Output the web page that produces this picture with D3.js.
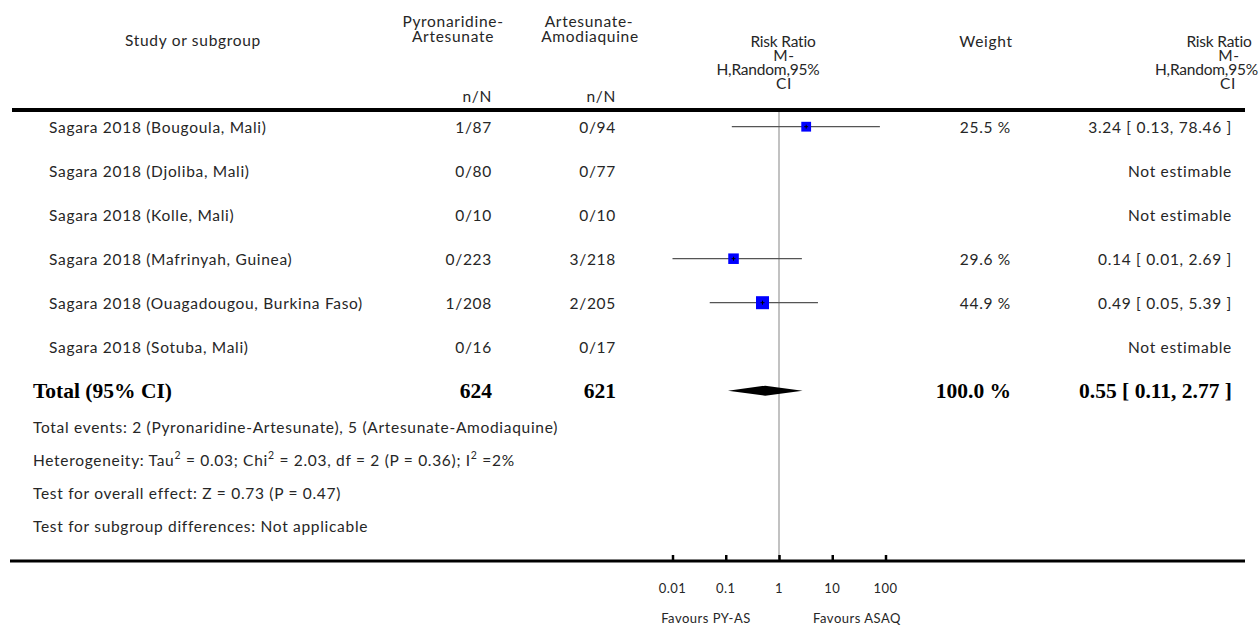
<!DOCTYPE html>
<html>
<head>
<meta charset="utf-8">
<script src="https://cdn.jsdelivr.net/npm/d3@7"></script>
<style>
  html, body { margin: 0; padding: 0; background: #fff; }
  svg { display: block; }
  text { font-family: Lato, "Open Sans", sans-serif; fill: #262626; letter-spacing: 0.7px; }
  text.bold { font-family: "Liberation Serif", "DejaVu Serif", serif; font-weight: bold; fill: #000; letter-spacing: 0; }
  text.small { letter-spacing: 0.5px; }
  text.tight { letter-spacing: -0.2px; }
</style>
</head>
<body>
<svg id="chart" width="1259" height="626"></svg>
<script>
// Study-level data (Risk Ratio, M-H random effects)
const studies = [
  "Sagara 2018 (Bougoula, Mali)",
  "Sagara 2018 (Djoliba, Mali)",
  "Sagara 2018 (Kolle, Mali)",
  "Sagara 2018 (Mafrinyah, Guinea)",
  "Sagara 2018 (Ouagadougou, Burkina Faso)",
  "Sagara 2018 (Sotuba, Mali)"
];
const eventsPA = [1, 0, 0, 0, 1, 0];
const totalPA  = [87, 80, 10, 223, 208, 16];
const eventsAS = [0, 0, 0, 3, 2, 0];
const totalAS  = [94, 77, 10, 218, 205, 17];
const weights  = [25.5, null, null, 29.6, 44.9, null];
const rr       = [3.24, null, null, 0.14, 0.49, null];
const rrLow    = [0.13, null, null, 0.01, 0.05, null];
const rrHigh   = [78.46, null, null, 2.69, 5.39, null];

// Pooled estimate
const pooledN   = [624, 621];
const pooledW   = 100.0;
const pooledRR  = [0.55, 0.11, 2.77]; // estimate, lower, upper

// Axis
const tickValues = [0.01, 0.1, 1, 10, 100];
const tickLabels = ["0.01", "0.1", "1", "10", "100"];

// Footnotes: [text, isSuperscript]
const footnotes = [
  [["Total events: 2 (Pyronaridine-Artesunate), 5 (Artesunate-Amodiaquine)"]],
  [["Heterogeneity: Tau"], ["2", true], [" = 0.03; Chi"], ["2", true], [" = 2.03, df = 2 (P = 0.36); I"], ["2", true], [" =2%"]],
  [["Test for overall effect: Z = 0.73 (P = 0.47)"]],
  [["Test for subgroup differences: Not applicable"]]
];

const svg = d3.select("#chart");
const fs = 15.5;

const x = d3.scaleLog().domain([0.01, 100]).range([672.5, 885.5]);
const rowY = d3.scaleLinear().domain([0, 1]).range([126.7, 170.7]);

const colStudy = 49, colPA = 492, colAS = 616, colW = 1011, colRR = 1232;

// ---- header ----
const hdr = svg.append("g").attr("font-size", fs);
function htext(t, xx, yy, anchor, cls) {
  hdr.append("text").attr("x", xx).attr("y", yy).attr("text-anchor", anchor || "middle")
    .attr("class", cls || null)
    .attr("dominant-baseline", "central").text(t);
}
htext("Study or subgroup", 193, 40);
htext("Pyronaridine-", 453, 21);
htext("Artesunate", 453, 35.5);
htext("Artesunate-", 589, 21);
htext("Amodiaquine", 590, 35.5);
htext("n/N", colPA, 96, "end");
htext("n/N", colAS, 96, "end");
htext("Risk Ratio", 783, 41, "middle", "tight");
htext("M-", 784, 55);
htext("H,Random,95%", 768, 69, "middle", "tight");
htext("CI", 784, 83);
htext("Weight", 986, 41);
htext("Risk Ratio", 1219, 41, "middle", "tight");
htext("M-", 1229, 55);
htext("H,Random,95%", 1258, 69, "end", "tight");
htext("CI", 1228, 83);

svg.append("line").attr("x1", 12).attr("x2", 1245).attr("y1", 110).attr("y2", 110)
  .attr("stroke", "#000").attr("stroke-width", 4);

// ---- reference line at RR = 1 ----
svg.append("line").attr("x1", x(1)).attr("x2", x(1)).attr("y1", 112).attr("y2", 559)
  .attr("stroke", "#999").attr("stroke-width", 1.2);

// ---- study rows ----
const rows = svg.append("g").attr("font-size", fs);
studies.forEach((s, i) => {
  const y = rowY(i);
  const g = rows.append("g");
  g.append("text").attr("x", colStudy).attr("y", y).attr("dominant-baseline", "central").text(s);
  g.append("text").attr("x", colPA).attr("y", y).attr("text-anchor", "end")
    .attr("dominant-baseline", "central").text(eventsPA[i] + "/" + totalPA[i]);
  g.append("text").attr("x", colAS).attr("y", y).attr("text-anchor", "end")
    .attr("dominant-baseline", "central").text(eventsAS[i] + "/" + totalAS[i]);
  if (rr[i] != null) {
    g.append("text").attr("x", colW).attr("y", y).attr("text-anchor", "end")
      .attr("dominant-baseline", "central").text(weights[i].toFixed(1) + " %");
    g.append("text").attr("x", colRR).attr("y", y).attr("text-anchor", "end")
      .attr("dominant-baseline", "central")
      .text(rr[i].toFixed(2) + " [ " + rrLow[i].toFixed(2) + ", " + rrHigh[i].toFixed(2) + " ]");
    // confidence interval
    g.append("line").attr("x1", x(rrLow[i])).attr("x2", x(rrHigh[i])).attr("y1", y).attr("y2", y)
      .attr("stroke", "#555").attr("stroke-width", 1.3);
    // square sized by study weight
    const side = 1.94 * Math.sqrt(weights[i]);
    g.append("rect").attr("x", x(rr[i]) - side / 2).attr("y", y - side / 2)
      .attr("width", side).attr("height", side).attr("fill", "#0000ff");
    g.append("line").attr("x1", x(rr[i])).attr("x2", x(rr[i])).attr("y1", y - 2).attr("y2", y + 2)
      .attr("stroke", "#000").attr("stroke-width", 1);
    g.append("line").attr("x1", x(rr[i]) - 2).attr("x2", x(rr[i]) + 2).attr("y1", y).attr("y2", y)
      .attr("stroke", "#000").attr("stroke-width", 1);
  } else {
    g.append("text").attr("x", colRR).attr("y", y).attr("text-anchor", "end")
      .attr("dominant-baseline", "central").text("Not estimable");
  }
});

// ---- pooled row ----
const ty = rowY(studies.length);
const tot = svg.append("g").attr("font-size", 21.5);
function btext(t, xx, anchor) {
  tot.append("text").attr("class", "bold").attr("x", xx).attr("y", ty)
    .attr("text-anchor", anchor).attr("dominant-baseline", "central").text(t);
}
btext("Total (95% CI)", 33, "start");
btext(pooledN[0], colPA, "end");
btext(pooledN[1], colAS, "end");
btext(pooledW.toFixed(1) + " %", colW, "end");
btext(pooledRR[0].toFixed(2) + " [ " + pooledRR[1].toFixed(2) + ", " + pooledRR[2].toFixed(2) + " ]", colRR, "end");
svg.append("path")
  .attr("d", d3.line()([
    [x(pooledRR[1]), ty], [x(pooledRR[0]), ty - 5], [x(pooledRR[2]), ty], [x(pooledRR[0]), ty + 5]
  ]) + "Z")
  .attr("fill", "#000");

// ---- footnotes ----
const fn = svg.append("g").attr("font-size", fs);
footnotes.forEach((parts, i) => {
  const t = fn.append("text").attr("x", 33).attr("y", 427 + 33 * i).attr("dominant-baseline", "central");
  let raised = false;
  parts.forEach(p => {
    const sp = t.append("tspan").text(p[0]);
    if (p[1]) {
      sp.attr("font-size", 10.5).attr("dy", -5);
      raised = true;
    } else if (raised) {
      sp.attr("dy", 5);
      raised = false;
    }
  });
});

// ---- axis ----
svg.append("line").attr("x1", 10).attr("x2", 1245).attr("y1", 561).attr("y2", 561)
  .attr("stroke", "#000").attr("stroke-width", 3);
const axis = d3.axisTop(x).tickValues(tickValues).tickSize(6).tickFormat("");
const ag = svg.append("g").attr("transform", "translate(0,561)").call(axis);
ag.select(".domain").remove();
ag.selectAll(".tick line").attr("stroke", "#000").attr("stroke-width", 2.5);
const lab = svg.append("g").attr("font-size", 13);
tickValues.forEach((v, i) => {
  lab.append("text").attr("class", "small").attr("x", x(v)).attr("y", 588).attr("text-anchor", "middle")
    .attr("dominant-baseline", "central").text(tickLabels[i]);
});
lab.append("text").attr("class", "small").attr("x", 706).attr("y", 618).attr("text-anchor", "middle")
  .attr("dominant-baseline", "central").text("Favours PY-AS");
lab.append("text").attr("class", "small").attr("x", 857).attr("y", 618).attr("text-anchor", "middle")
  .attr("dominant-baseline", "central").text("Favours ASAQ");
</script>
</body>
</html>
